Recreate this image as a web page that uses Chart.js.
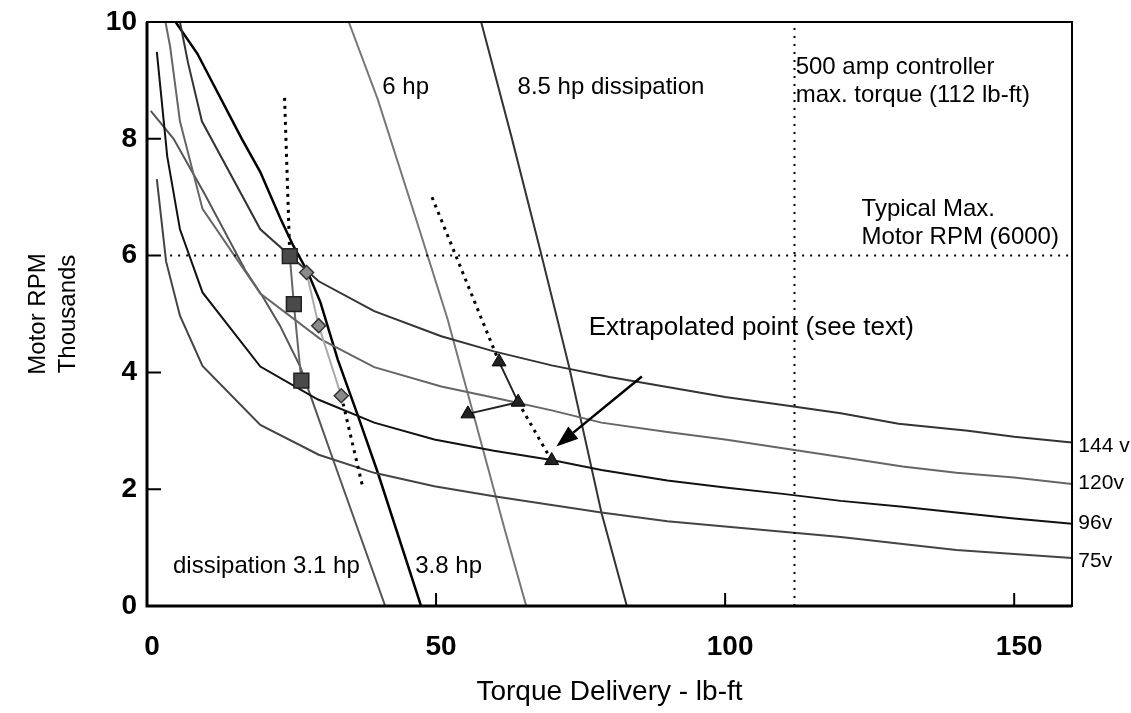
<!DOCTYPE html>
<html lang="en">
<head>
<meta charset="UTF-8">
<title>Motor RPM vs Torque Delivery</title>
<script src="https://cdn.jsdelivr.net/npm/chart.js"></script>
<style>
  html, body { margin: 0; padding: 0; background: #fff; }
  #wrap { width: 1131px; height: 713px; }
</style>
</head>
<body>
<div id="wrap"><canvas id="chart" width="1131" height="713"></canvas></div>
<script>
// motor curves: torque (lb-ft) vs rpm (thousands) at each pack voltage
const v144Torque = [5.5, 7.1, 9.5, 19.6, 29.7, 39.3, 50.9, 60, 70, 80, 90, 100, 110, 120, 130, 142, 150, 160];
const v144Rpm    = [10.1, 9.3, 8.3, 6.45, 5.56, 5.05, 4.62, 4.36, 4.12, 3.92, 3.75, 3.58, 3.44, 3.3, 3.12, 3.0, 2.9, 2.8];
const v120Torque = [3.0, 4.0, 5.7, 9.6, 19.6, 30, 39.3, 50.9, 61.3, 70, 78.6, 90, 100, 110, 120, 130.7, 140, 150, 160];
const v120Rpm    = [10.1, 9.58, 8.3, 6.8, 5.35, 4.57, 4.09, 3.76, 3.54, 3.35, 3.14, 2.98, 2.85, 2.7, 2.55, 2.39, 2.28, 2.2, 2.09];
const v96Torque  = [1.7, 3.5, 5.7, 9.6, 19.6, 29.5, 39.3, 49.7, 60, 70, 78.6, 90, 100, 110, 120, 130.7, 140, 150, 160];
const v96Rpm     = [9.49, 7.7, 6.45, 5.37, 4.1, 3.54, 3.14, 2.85, 2.66, 2.5, 2.33, 2.15, 2.03, 1.92, 1.8, 1.7, 1.6, 1.5, 1.41];
const v75Torque  = [1.7, 3.3, 5.7, 9.6, 19.6, 29.7, 39.3, 49.7, 60, 70, 78.6, 90, 100, 110, 120, 130.7, 140, 150, 160];
const v75Rpm     = [7.31, 5.9, 4.97, 4.11, 3.1, 2.59, 2.28, 2.05, 1.88, 1.73, 1.6, 1.45, 1.36, 1.27, 1.18, 1.06, 0.96, 0.89, 0.82];

// constant dissipation lines
const hp31Torque = [0.65, 4.6, 10, 17, 20, 23, 26.5, 29, 32, 41.2];
const hp31Rpm    = [8.48, 8.0, 7.05, 5.75, 5.3, 4.8, 4.1, 3.4, 2.56, 0];
const hp38Torque = [4.6, 8.7, 16.4, 19.6, 23.1, 25.3, 27.8, 30, 33, 36.4, 39.9, 47.4];
const hp38Rpm    = [10.05, 9.46, 8.0, 7.43, 6.63, 6.17, 5.72, 5.2, 4.22, 3.28, 2.29, 0];
const hp6Torque  = [34.9, 39.9, 47.1, 52, 61.9, 65.6];
const hp6Rpm     = [10, 8.68, 6.45, 4.91, 1.3, 0];
const hp85Torque = [57.8, 63, 68, 73, 78.6, 83];
const hp85Rpm    = [10, 8.05, 6.1, 4.1, 1.6, 0];

// measured points
const sqTorque   = [24.7, 25.4, 26.7];
const sqRpm      = [5.99, 5.17, 3.86];
const dmTorque   = [27.6, 29.7, 33.6];
const dmRpm      = [5.71, 4.80, 3.60];
const triTorque  = [60.9, 64.2, 55.5];
const triRpm     = [4.18, 3.49, 3.29];
const extraTorque = [70];
const extraRpm    = [2.49];

// dotted trend lines
const trendA = { torque: [23.8, 24.7], rpm: [8.7, 6.0] };
const trendB = { torque: [33.6, 37.4], rpm: [3.6, 2.0] };
const trendC = { torque: [49.3, 60.9], rpm: [7.0, 4.18] };
const trendD = { torque: [64.2, 70], rpm: [3.49, 2.49] };

// limits and axis ticks
const maxRpm = 6;
const maxTorque = 112;
const torqueRange = [0, 160];
const rpmRange = [0, 10];
const torqueTicks = [0, 50, 100, 150];
const rpmTicks = [0, 2, 4, 6, 8, 10];

const FONT = '"Liberation Sans", Arial, sans-serif';
const pts = (xs, ys) => xs.map((x, i) => ({ x, y: ys[i] }));

function curve(xs, ys, color, width) {
  return { data: pts(xs, ys), showLine: true, borderColor: color, borderWidth: width || 2,
           pointRadius: 0, tension: 0, fill: false };
}
function dotted(xs, ys, width, dash) {
  return { data: pts(xs, ys), showLine: true, borderColor: '#000', borderWidth: width,
           borderDash: dash, pointRadius: 0, fill: false };
}

const datasets = [
  { data: pts(triTorque, triRpm), showLine: true, borderColor: '#222', borderWidth: 2,
    pointStyle: 'triangle', pointRadius: 8, pointBackgroundColor: '#222', pointBorderColor: '#000', pointBorderWidth: 1 },
  { data: pts(extraTorque, extraRpm), showLine: false,
    pointStyle: 'triangle', pointRadius: 8, pointBackgroundColor: '#222', pointBorderColor: '#000', pointBorderWidth: 1 },
  { data: pts(sqTorque, sqRpm), showLine: true, borderColor: '#666', borderWidth: 2,
    pointStyle: 'rect', pointRadius: 10.5, pointBackgroundColor: '#4a4a4a', pointBorderColor: '#222', pointBorderWidth: 1.5 },
  { data: pts(dmTorque, dmRpm), showLine: true, borderColor: '#aaa', borderWidth: 2,
    pointStyle: 'rectRot', pointRadius: 7, pointBackgroundColor: '#8a8a8a', pointBorderColor: '#333', pointBorderWidth: 1.5 },
  dotted(trendA.torque, trendA.rpm, 3, [3, 5]),
  dotted(trendB.torque, trendB.rpm, 3, [3, 5]),
  dotted(trendC.torque, trendC.rpm, 3, [3, 5]),
  dotted(trendD.torque, trendD.rpm, 3, [3, 5]),
  dotted([4, torqueRange[1]], [maxRpm, maxRpm], 2, [2, 6]),
  dotted([maxTorque, maxTorque], rpmRange, 2, [2, 6]),
  curve(v144Torque, v144Rpm, '#333'),
  curve(v120Torque, v120Rpm, '#666'),
  curve(v96Torque, v96Rpm, '#111'),
  curve(v75Torque, v75Rpm, '#444'),
  curve(hp31Torque, hp31Rpm, '#555'),
  curve(hp38Torque, hp38Rpm, '#000', 2.5),
  curve(hp6Torque, hp6Rpm, '#777'),
  curve(hp85Torque, hp85Rpm, '#333')
];

// text placed in data coordinates (left edge, vertical middle)
const notes = [
  { text: '6 hp', x: 40.7, y: 8.88, size: 24 },
  { text: '8.5 hp dissipation', x: 64.1, y: 8.88, size: 24 },
  { text: '500 amp controller', x: 112.2, y: 9.22, size: 24 },
  { text: 'max. torque (112 lb-ft)', x: 112.2, y: 8.74, size: 24 },
  { text: 'Typical Max.', x: 123.6, y: 6.8, size: 24 },
  { text: 'Motor RPM (6000)', x: 123.6, y: 6.32, size: 24 },
  { text: 'Extrapolated point (see text)', x: 76.4, y: 4.77, size: 26 },
  { text: 'dissipation 3.1 hp', x: 4.5, y: 0.67, size: 24 },
  { text: '3.8 hp', x: 46.4, y: 0.67, size: 24 },
  { text: '144 v', x: 161.1, y: 2.73, size: 21 },
  { text: '120v', x: 161.1, y: 2.11, size: 21 },
  { text: '96v', x: 161.1, y: 1.41, size: 21 },
  { text: '75v', x: 161.1, y: 0.77, size: 21 }
];
const arrowFrom = { x: 85.6, y: 3.93 };
const arrowTo = { x: 70.8, y: 2.73 };

const frame = {
  id: 'frame',
  afterDatasetsDraw(chart) {
    const { ctx, chartArea: a, scales: { x, y } } = chart;
    ctx.save();
    ctx.strokeStyle = '#000';
    ctx.lineWidth = 2;
    ctx.strokeRect(a.left, a.top, a.right - a.left, a.bottom - a.top);
    ctx.lineWidth = 3;
    ctx.beginPath();
    ctx.moveTo(a.left, a.top);
    ctx.lineTo(a.left, a.bottom);
    ctx.lineTo(a.right, a.bottom);
    ctx.stroke();

    // tick marks point inward
    ctx.lineWidth = 2;
    ctx.beginPath();
    x.ticks.forEach(t => {
      const px = x.getPixelForValue(t.value);
      ctx.moveTo(px, a.bottom);
      ctx.lineTo(px, a.bottom - 13);
    });
    y.ticks.forEach(t => {
      const py = y.getPixelForValue(t.value);
      ctx.moveTo(a.left, py);
      ctx.lineTo(a.left + 14, py);
    });
    ctx.stroke();

    // arrow to the extrapolated point
    const x0 = x.getPixelForValue(arrowFrom.x), y0 = y.getPixelForValue(arrowFrom.y);
    const x1 = x.getPixelForValue(arrowTo.x), y1 = y.getPixelForValue(arrowTo.y);
    const ang = Math.atan2(y1 - y0, x1 - x0);
    const headLen = 22, headW = 8;
    const bx = x1 - headLen * Math.cos(ang), by = y1 - headLen * Math.sin(ang);
    ctx.lineWidth = 2.5;
    ctx.beginPath();
    ctx.moveTo(x0, y0);
    ctx.lineTo(bx, by);
    ctx.stroke();
    ctx.fillStyle = '#000';
    ctx.beginPath();
    ctx.moveTo(x1, y1);
    ctx.lineTo(bx + headW * Math.sin(ang), by - headW * Math.cos(ang));
    ctx.lineTo(bx - headW * Math.sin(ang), by + headW * Math.cos(ang));
    ctx.closePath();
    ctx.fill();

    ctx.textAlign = 'left';
    ctx.textBaseline = 'middle';
    notes.forEach(n => {
      ctx.font = n.size + 'px ' + FONT;
      ctx.fillText(n.text, x.getPixelForValue(n.x), y.getPixelForValue(n.y));
    });
    ctx.restore();
  }
};

// keep the plot box fixed: labels may overhang the edges
function noOverhang(s) {
  s.paddingTop = 0;
  s.paddingBottom = 0;
  s.paddingLeft = 0;
  s.paddingRight = 0;
}

new Chart(document.getElementById('chart'), {
  type: 'scatter',
  data: { datasets },
  plugins: [frame],
  options: {
    responsive: false,
    animation: false,
    events: [],
    layout: { padding: { top: 22, right: 59, left: 0, bottom: 0 } },
    plugins: { legend: { display: false }, tooltip: { enabled: false } },
    scales: {
      x: {
        type: 'linear', min: torqueRange[0], max: torqueRange[1],
        border: { display: false },
        grid: { display: false, drawTicks: false },
        afterBuildTicks: s => { s.ticks = torqueTicks.map(v => ({ value: v })); },
        ticks: { padding: 24, labelOffset: 5, color: '#000',
                 font: { family: FONT, size: 28, weight: 'bold' } },
        title: { display: true, text: 'Torque Delivery - lb-ft', color: '#000',
                 font: { family: FONT, size: 28 }, padding: { top: 0, bottom: 4 } },
        afterFit: s => { s.height = 107; noOverhang(s); }
      },
      y: {
        type: 'linear', min: rpmRange[0], max: rpmRange[1],
        border: { display: false },
        grid: { display: false, drawTicks: false },
        afterBuildTicks: s => { s.ticks = rpmTicks.map(v => ({ value: v })); },
        ticks: { padding: 10, color: '#000',
                 font: { family: FONT, size: 28, weight: 'bold' } },
        title: { display: true, text: ['Motor RPM', 'Thousands'], color: '#000',
                 font: { family: FONT, size: 24, lineHeight: 1.25 }, padding: { top: 23, bottom: 0 } },
        afterFit: s => { s.width = 147; noOverhang(s); }
      }
    }
  }
});
</script>
</body>
</html>
